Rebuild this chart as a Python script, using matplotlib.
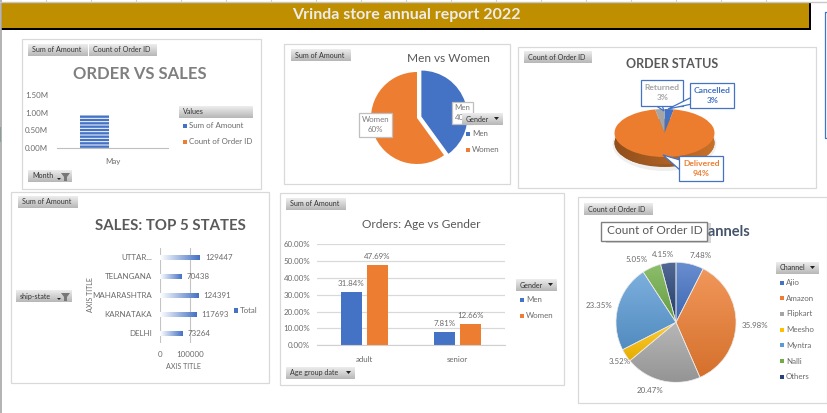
import numpy as np
import matplotlib
matplotlib.use('Agg')
import matplotlib.pyplot as plt
from matplotlib.colors import LinearSegmentedColormap
from matplotlib.patches import Rectangle, Polygon, Ellipse

W, H = 828, 413

plt.rcParams['font.family'] = ['Lato', 'DejaVu Sans']

# chart data
month = ['May']
amount_may = [0.93e6]
orders_may = [0.008e6]

gender = ['Men', 'Women']
gender_share = [40, 60]

status = ['Cancelled', 'Delivered', 'Returned']
status_share = [3, 94, 3]

states = ['DELHI', 'KARNATAKA', 'MAHARASHTRA', 'TELANGANA', 'UTTAR...']
state_sales = [73264, 117693, 124391, 70438, 129447]

age_groups = ['adult', 'senior']
men_pct = [31.84, 7.81]
women_pct = [47.69, 12.66]
pct_ticks = [0, 10, 20, 30, 40, 50, 60]

channels = ['Ajio', 'Amazon', 'Flipkart', 'Meesho', 'Myntra', 'Nalli', 'Others']
channel_pct = [7.48, 35.98, 20.47, 3.52, 23.35, 5.05, 4.15]
channel_col = ['#4472C4', '#ED7D31', '#A5A5A5', '#FFC000', '#5B9BD5', '#70AD47', '#264478']

BLUE, ORANGE, GREY = '#4472C4', '#ED7D31', '#7f7f7f'
TXT = '#6a6a6a'
SMALL = 5.7

fig = plt.figure(figsize=(W / 100, H / 100), dpi=100, facecolor='white')

# layer in pixel coordinates for the sheet, frames and buttons
bg = fig.add_axes([0, 0, 1, 1], zorder=0)
bg.set_xlim(0, W)
bg.set_ylim(H, 0)
bg.axis('off')
# top layer for things that sit over the charts
top = fig.add_axes([0, 0, 1, 1], zorder=10)
top.set_xlim(0, W)
top.set_ylim(H, 0)
top.axis('off')
top.patch.set_alpha(0)


def ax_px(x0, y0, x1, y1):
    return fig.add_axes([x0 / W, 1 - y1 / H, (x1 - x0) / W, (y1 - y0) / H], zorder=5)


def pie_ax(cx, cy, r, ry=None):
    ry = ry or r
    ax = ax_px(cx - r * 1.3, cy - ry * 1.3, cx + r * 1.3, cy + ry * 1.3)
    ax.patch.set_alpha(0)
    return ax


def fix_pie(ax):
    ax.set_aspect('auto')
    ax.set_xlim(-1.3, 1.3)
    ax.set_ylim(-1.3, 1.3)


def frame(x0, y0, x1, y1):
    bg.add_patch(Rectangle((x0, y0), x1 - x0, y1 - y0, fc='white', ec='#d9d9d9', lw=0.9))


def button(x0, y0, x1, y1, label, arrow=False, funnel=False, layer=None):
    layer = layer or bg
    grad = LinearSegmentedColormap.from_list('b', ['#ececec', '#b8b8b8'])
    layer.imshow(np.linspace(0, 1, 16).reshape(-1, 1), cmap=grad, aspect='auto',
                 extent=(x0, x1, y1, y0), zorder=3)
    layer.set_xlim(0, W)
    layer.set_ylim(H, 0)
    layer.text(x0 + 4, (y0 + y1) / 2, label, fontsize=5.1, color='#333333', va='center',
               ha='left', zorder=4)
    if arrow:
        ax_ = x1 - 9
        layer.add_patch(Polygon([(ax_, y0 + 4), (ax_ + 5, y0 + 4), (ax_ + 2.5, y0 + 7)],
                                fc='#222222', zorder=4))
    if funnel:
        layer.add_patch(Polygon([(x1 - 11, y0 + 3), (x1 - 2, y0 + 3), (x1 - 5, y0 + 7),
                                 (x1 - 5, y0 + 11), (x1 - 8, y0 + 11), (x1 - 8, y0 + 7)],
                                fc='#777777', zorder=4))
        layer.add_patch(Polygon([(x1 - 15, y0 + 8), (x1 - 11, y0 + 8), (x1 - 13, y0 + 10)],
                                fc='#222222', zorder=4))


def legend_item(x, y, label, color, size=SMALL):
    bg.add_patch(Rectangle((x, y - 2), 4, 4, fc=color, ec='none', zorder=4))
    bg.text(x + 6, y, label, fontsize=size, color=TXT, va='center', zorder=4)


def gradient_fill(ax, patch, c0, c1, extent, horizontal=False, under=False):
    # paint a two colour gradient clipped to a bar or a wedge
    cmap = LinearSegmentedColormap.from_list('g', [c0, c1])
    g = np.linspace(0, 1, 64)
    g = g.reshape(1, -1) if horizontal else g.reshape(-1, 1)
    z = patch.get_zorder() + (-0.1 if under else 0.1)
    im = ax.imshow(g, cmap=cmap, aspect='auto', extent=extent, origin='upper', zorder=z)
    im.set_clip_path(patch)


# sheet background
bg.plot([1, 1], [0, H], color='#a6a6a6', lw=1.2)
bg.add_patch(Rectangle((0, 127), 1.5, 15, fc='#107C41', ec='none'))
bg.plot([0, W], [2, 2], color='#c8c8c8', lw=1)
for x in [45, 90, 135, 180, 225, 270, 315, 360, 405, 450, 495, 540, 585, 630, 675, 720, 765]:
    bg.plot([x + 1, x + 1], [0, 2], color='#d0d0d0', lw=0.8)
bg.add_patch(Rectangle((1, 28), 810, 2, fc='black', ec='none'))
bg.add_patch(Rectangle((809, 3), 2, 27, fc='black', ec='none'))
bg.add_patch(Rectangle((1, 3), 808, 25, fc='#BF8F00', ec='none'))
bg.text(406, 15.5, 'Vrinda store annual report 2022', color='#ececec', fontsize=11.5,
        fontweight='bold', ha='center', va='center')
bg.plot([828, 825.5, 825.5, 828], [12, 12, 138, 138], color='#4472C4', lw=0.9)

# panel frames
frame(22, 39, 261, 189)
frame(284, 44, 510, 184)
frame(518, 47, 816, 188)
frame(11, 192, 269, 383)
frame(280, 193, 564, 385)
frame(578, 197, 827, 403)

# ORDER VS SALES
button(28, 44, 88, 56, 'Sum of Amount')
button(89, 44, 157, 56, 'Count of Order ID')
bg.text(140, 74, 'ORDER VS SALES', fontsize=12, fontweight='bold', color=GREY, ha='center',
        va='center')
ax1 = ax_px(57, 95, 168, 148)
ax1.patch.set_alpha(0)
x1 = np.arange(len(month))
plt.rcParams['hatch.color'] = 'white'
plt.rcParams['hatch.linewidth'] = 0.7
ax1.bar(x1 - 0.162, amount_may, 0.26, color=BLUE, hatch='-----', lw=0)
ax1.bar(x1 + 0.12, orders_may, 0.26, color=ORANGE, lw=0)
ax1.set_xlim(-0.5, 0.5)
ax1.set_ylim(0, 1.5e6)
ax1.set_xticks(x1, month)
ax1.set_yticks([0, 0.5e6, 1e6, 1.5e6], ['0.00M', '0.50M', '1.00M', '1.50M'])
ax1.tick_params(length=0, labelsize=SMALL, labelcolor=TXT, pad=6.5)
ax1.tick_params(axis='x', pad=7)
for s in ['top', 'left', 'right']:
    ax1.spines[s].set_visible(False)
ax1.spines['bottom'].set_color('#bfbfbf')
button(179, 106, 253, 118, 'Values')
legend_item(183, 126, 'Sum of Amount', BLUE)
legend_item(183, 142, 'Count of Order ID', ORANGE)
button(28, 170, 72, 182, 'Month', funnel=True)

# Men vs Women
button(291, 49, 351, 61, 'Sum of Amount')
bg.text(448, 59, 'Men vs Women', fontsize=8.6, color='#595959', ha='center', va='center')
ax2 = pie_ax(417, 118, 46)
ax2.pie(gender_share, colors=[BLUE, ORANGE], startangle=90, counterclock=False,
        explode=(0.1, 0), wedgeprops={'lw': 0})
fix_pie(ax2)
top.add_patch(Rectangle((359, 112.5), 33.5, 24, fc='white', ec='#bfbfbf', lw=0.9))
top.text(375.5, 124.5, 'Women\n60%', fontsize=SMALL, color='#7a7a7a', ha='center', va='center', linespacing=1.5)
top.add_patch(Rectangle((452, 102), 21, 22, fc='white', ec='#bfbfbf', lw=0.9))
top.text(462.5, 113, 'Men\n40%', fontsize=SMALL, color='#7a7a7a', ha='center', va='center', linespacing=1.5)
button(462, 113, 503, 125, 'Gender', arrow=True, layer=top)
legend_item(466, 133.5, 'Men', BLUE)
legend_item(466, 149.5, 'Women', ORANGE)

# ORDER STATUS
button(524, 51, 592, 63, 'Count of Order ID')
bg.text(672, 64, 'ORDER STATUS', fontsize=9, fontweight='bold', color='#595959', ha='center', va='center')
rx3, ry3, depth = 50, 24, 10
bg.add_patch(Ellipse((664.5, 144), 2 * rx3 + 4, 2 * ry3 + 6, fc='#efefef', ec='none', zorder=1))
ax3 = pie_ax(664.5, 133, rx3, ry3)
d = depth / ry3
side, _ = ax3.pie([1], colors=['#9c5a22'], center=(0, -d), wedgeprops={'lw': 0})
gradient_fill(ax3, side[0], '#8f4e1c', '#c9712a', (-1.05, 1.05, -1.3, 1.3), horizontal=True)
ax3.pie(status_share, colors=[BLUE, '#EC7D2F', '#A5A5A5'], startangle=90, counterclock=False,
        wedgeprops={'lw': 0})
fix_pie(ax3)
for w in ax3.patches[-3:]:
    w.set_zorder(3)


def callout(x0, y0, x1, y1, lines, color, tail):
    top.add_patch(Polygon(tail, fc='white', ec=BLUE, lw=0.9))
    top.add_patch(Rectangle((x0, y0), x1 - x0, y1 - y0, fc='white', ec='none'))
    top.add_patch(Rectangle((x0, y0), x1 - x0, y1 - y0, fc='none', ec=BLUE, lw=0.9))
    top.text((x0 + x1) / 2, (y0 + y1) / 2, lines, fontsize=6.1, fontweight='bold', color=color,
             ha='center', va='center', linespacing=1.5)


callout(641, 79.5, 683.5, 106, 'Returned\n3%', '#A5A5A5', [(655, 105), (664, 111), (662, 105)])
callout(690, 82.5, 734.5, 108, 'Cancelled\n3%', BLUE, [(692, 97), (668, 109), (692, 104)])
callout(679.5, 155.5, 723.5, 181, 'Delivered\n94%', ORANGE, [(680, 160), (663, 155), (680, 170)])

# SALES: TOP 5 STATES
button(18, 196, 78, 208, 'Sum of Amount')
bg.text(170, 226, 'SALES: TOP 5 STATES', fontsize=10.8, fontweight='bold', color='#595959', ha='center', va='center')
ax4 = ax_px(159.7, 248, 205.6, 342.7)
ax4.patch.set_alpha(0)
y4 = np.arange(len(states))
bars4 = ax4.barh(y4, state_sales, 0.27, color='none', lw=0)
for b in bars4:
    gradient_fill(ax4, b, '#ffffff', '#4472C4', (0, b.get_width(), -0.5, 4.5), horizontal=True)
    ax4.text(b.get_width() + 19000, b.get_y() + b.get_height() / 2, f'{b.get_width():.0f}', fontsize=SMALL,
             color=TXT, va='center', clip_on=False)
ax4.set_xlim(0, 150000)
ax4.set_ylim(-0.5, 4.5)
ax4.set_xticks([0, 100000], ['0', '100000'])
ax4.set_yticks(y4, states)
ax4.tick_params(length=0, labelsize=SMALL, labelcolor=TXT, pad=5.5)
ax4.tick_params(axis='x', pad=6)
ax4.grid(axis='x', color='#c4c4c4', lw=0.8)
ax4.set_axisbelow(True)
for s in ax4.spines.values():
    s.set_visible(False)
bg.text(183, 366.5, 'AXIS TITLE', fontsize=5.1, color=TXT, ha='center', va='center')
bg.text(90.5, 295, 'AXIS TITLE', fontsize=5.1, color=TXT, ha='center', va='center', rotation=90)
button(16, 290, 72, 302, 'ship-state', funnel=True)
bg.add_patch(Rectangle((234.5, 308), 3.5, 5, fc=BLUE, ec='none'))
bg.text(240, 310.5, 'Total', fontsize=SMALL, color=TXT, va='center')

# Orders: Age vs Gender
button(286, 198, 346, 210, 'Sum of Amount')
bg.text(421, 225, 'Orders: Age vs Gender', fontsize=8.6, color='#595959', ha='center', va='center')
ax5 = ax_px(317.3, 244.3, 504.7, 345.3)
ax5.patch.set_alpha(0)
x5 = np.arange(len(age_groups))
b_men = ax5.bar(x5 - 0.139, men_pct, 0.224, color=BLUE, lw=0)
b_wom = ax5.bar(x5 + 0.139, women_pct, 0.224, color=ORANGE, lw=0)
for bars in (b_men, b_wom):
    for b in bars:
        ax5.text(b.get_x() + b.get_width() / 2, b.get_height() + 3, f'{b.get_height():.2f}%',
                 fontsize=SMALL, color=TXT, ha='center', va='bottom')
ax5.set_xlim(-0.5, 1.5)
ax5.set_ylim(0, 60)
ax5.set_xticks(x5, age_groups)
ax5.set_yticks(pct_ticks, [f'{t:.2f}%' for t in pct_ticks])
ax5.tick_params(length=0, labelsize=SMALL, labelcolor=TXT, pad=5)
ax5.tick_params(axis='x', pad=8)
ax5.grid(axis='y', color='#d9d9d9', lw=0.9)
ax5.set_axisbelow(True)
for s in ax5.spines.values():
    s.set_visible(False)
ax5.spines['bottom'].set_visible(True)
ax5.spines['bottom'].set_color('#d0d0d0')
button(516, 279, 557, 291, 'Gender', arrow=True)
legend_item(520, 299.5, 'Men', BLUE)
legend_item(520, 315.5, 'Women', ORANGE)
button(286, 367, 355, 379, 'Age group date', arrow=True)

# Channels
button(584, 203, 653, 215, 'Count of Order ID')
bg.text(750, 232.5, 'Channels', fontsize=10.5, fontweight='bold', color='#44546A', ha='right', va='center')
ax6 = pie_ax(676, 322.3, 60)
w6, _ = ax6.pie(channel_pct, colors=channel_col, startangle=90, counterclock=False,
                wedgeprops={'lw': 0.5, 'ec': '#e8e8e8'})
for w, c in zip(w6, channel_col):
    rgb = np.array(matplotlib.colors.to_rgb(c))
    light = tuple(rgb + (1 - rgb) * 0.2)
    dark = tuple(rgb * 0.9)
    ext = w.get_path().get_extents()
    gradient_fill(ax6, w, light, dark, (ext.x0, ext.x1, ext.y0, ext.y1), under=True)
    w.set_facecolor('none')
fix_pie(ax6)
pct_pos = [(700.5, 255.5), (755, 325), (650.5, 390.5), (619.5, 361), (599.5, 305), (636.5, 259), (662.5, 254.5)]
for (px, py), v in zip(pct_pos, channel_pct):
    bg.text(px, py, f'{v:.2f}%', fontsize=SMALL, color=TXT, ha='center', va='center')
button(776, 262, 819, 274, 'Channel', arrow=True)
for i, (name, c) in enumerate(zip(channels, channel_col)):
    legend_item(780, 282.5 + i * 15.7, name, c)
# hover tooltip sits on top of the title
top.add_patch(Rectangle((606, 223), 105, 20, fc='#8a8a8a', ec='none', alpha=0.35))
top.add_patch(Rectangle((601.5, 221.5), 106, 19.5, fc='white', ec='#7f7f7f', lw=1))
top.text(654.5, 231, 'Count of Order ID', fontsize=8.6, color='#595959', ha='center', va='center')

fig.savefig('out.png', dpi=100)
